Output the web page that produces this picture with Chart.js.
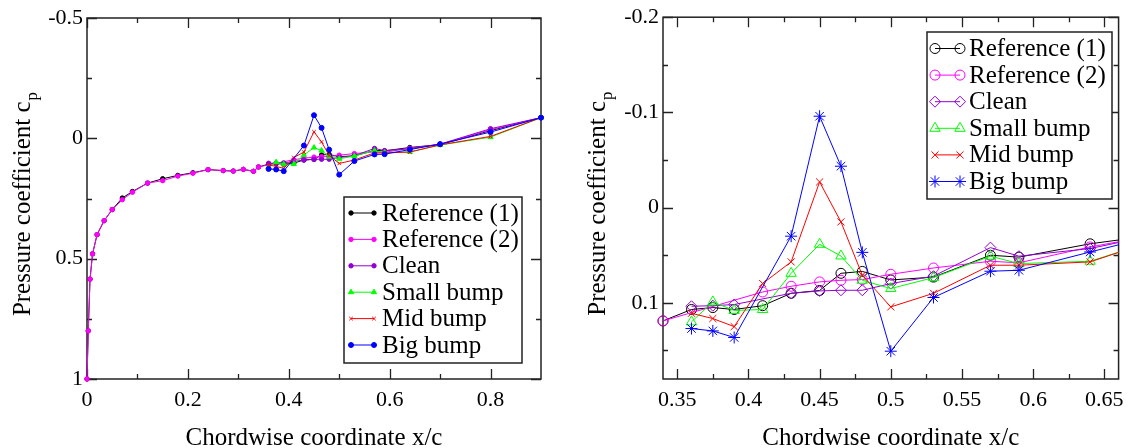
<!DOCTYPE html>
<html>
<head>
<meta charset="utf-8">
<script src="https://cdn.jsdelivr.net/npm/chart.js@4.4.1/dist/chart.umd.min.js"></script>
<style>
  html, body { margin: 0; padding: 0; background: #fff; }
  #wrap { position: relative; width: 1132px; height: 448px; }
  .panel { position: absolute; top: 0; width: 566px; height: 448px; }
</style>
</head>
<body>
<div id="wrap">
  <div class="panel" style="left:0"><canvas id="left" width="566" height="448"></canvas></div>
  <div class="panel" style="left:566px"><canvas id="right" width="566" height="448"></canvas></div>
</div>
<script>
// ---- data (x/c, cp) ----
const seriesNames = ["Reference (1)", "Reference (2)", "Clean", "Small bump", "Mid bump", "Big bump"];
const seriesColors = ["#000000", "#ff00ff", "#9400d3", "#00ff00", "#ff0000", "#0000ff"];

const ref1X = [0, 0.0025, 0.006, 0.011, 0.02, 0.034, 0.05, 0.07, 0.09, 0.12, 0.15, 0.18, 0.21, 0.24, 0.27, 0.29, 0.31, 0.33,
  0.34, 0.36, 0.375, 0.39, 0.41, 0.43, 0.45, 0.465, 0.48, 0.5, 0.53, 0.57, 0.59, 0.64, 0.7, 0.8, 0.9];
const ref1Cp = [1.0, 0.80, 0.585, 0.48, 0.40, 0.342, 0.296, 0.248, 0.221, 0.186, 0.168, 0.154, 0.143, 0.13, 0.134, 0.136, 0.129, 0.137,
  0.119, 0.107, 0.105, 0.107, 0.103, 0.090, 0.087, 0.069, 0.067, 0.076, 0.073, 0.050, 0.052, 0.038, 0.026, -0.032, -0.086];

const ref2X = [0, 0.0025, 0.006, 0.011, 0.02, 0.034, 0.05, 0.07, 0.09, 0.12, 0.15, 0.18, 0.21, 0.24, 0.27, 0.29, 0.31, 0.33,
  0.34, 0.41, 0.43, 0.45, 0.465, 0.48, 0.5, 0.53, 0.57, 0.59, 0.64, 0.7, 0.8, 0.9];
const ref2Cp = [1.0, 0.80, 0.585, 0.48, 0.40, 0.342, 0.296, 0.255, 0.224, 0.186, 0.176, 0.157, 0.145, 0.13, 0.134, 0.136, 0.129, 0.137,
  0.119, 0.0886, 0.0826, 0.078, 0.0763, 0.0756, 0.070, 0.0634, 0.0563, 0.058, 0.0413, 0.025, -0.036, -0.086];

const cleanX = [0.36, 0.375, 0.39, 0.43, 0.45, 0.465, 0.48, 0.5, 0.53, 0.57, 0.59, 0.64, 0.7, 0.8, 0.9];
const cleanCp = [0.1036, 0.103, 0.1018, 0.090, 0.0875, 0.0868, 0.0868, 0.0798, 0.072, 0.042, 0.051, 0.043, 0.024, -0.04, -0.086];

const smallX = [0.36, 0.375, 0.39, 0.41, 0.43, 0.45, 0.465, 0.48, 0.5, 0.53, 0.57, 0.59, 0.64, 0.7, 0.8, 0.9];
const smallCp = [0.12, 0.099, 0.108, 0.107, 0.069, 0.0385, 0.0508, 0.0763, 0.085, 0.0735, 0.051, 0.0588, 0.0563, 0.028, -0.005, -0.086];

const midX = [0.36, 0.375, 0.39, 0.41, 0.43, 0.45, 0.465, 0.48, 0.5, 0.53, 0.57, 0.59, 0.64, 0.7, 0.8, 0.9];
const midCp = [0.111, 0.1165, 0.125, 0.0797, 0.057, -0.027, 0.015, 0.071, 0.1043, 0.090, 0.0605, 0.0605, 0.057, 0.027, -0.008, -0.086];

const bigX = [0.36, 0.375, 0.39, 0.43, 0.45, 0.465, 0.48, 0.5, 0.53, 0.57, 0.59, 0.64, 0.7, 0.8, 0.9];
const bigCp = [0.127, 0.1295, 0.1364, 0.030, -0.096, -0.0435, 0.047, 0.1508, 0.0944, 0.0668, 0.0658, 0.0466, 0.024, -0.026, -0.086];

// tick values
const leftXTicks = [0, 0.2, 0.4, 0.6, 0.8];
const leftXMinor = [0.1, 0.3, 0.5, 0.7];
const leftYTicks = [-0.5, 0, 0.5, 1];
const leftYMinor = [-0.25, 0.25, 0.75];
const rightXTicks = [0.35, 0.4, 0.45, 0.5, 0.55, 0.6, 0.65];
const rightXMinor = [0.375, 0.425, 0.475, 0.525, 0.575, 0.625];
const rightYTicks = [-0.2, -0.1, 0, 0.1];
const rightYMinor = [-0.15, -0.05, 0.05, 0.15];

const seriesX = [ref1X, ref2X, cleanX, smallX, midX, bigX];
const seriesCp = [ref1Cp, ref2Cp, cleanCp, smallCp, midCp, bigCp];

const SERIF = "'Liberation Serif', 'DejaVu Serif', serif";
const fmt = (v) => String(Math.round(v * 1000) / 1000);

// ---- plugins ----
// frame with inward ticks on all four sides
const frameTicks = {
  id: "frameTicks",
  beforeDatasetsDraw(chart, args, o) {
    const { ctx, chartArea: a, scales } = chart;
    const x = scales.x, y = scales.y;
    ctx.save();
    ctx.strokeStyle = "#222";
    ctx.lineWidth = 1.5;
    ctx.strokeRect(a.left, a.top, a.right - a.left, a.bottom - a.top);
    ctx.lineWidth = 1.3;
    ctx.beginPath();
    const xt = (vals, len) => vals.forEach((v) => {
      const p = Math.round(x.getPixelForValue(v)) + 0.5;
      ctx.moveTo(p, a.bottom); ctx.lineTo(p, a.bottom - len);
      ctx.moveTo(p, a.top); ctx.lineTo(p, a.top + len);
    });
    const yt = (vals, len) => vals.forEach((v) => {
      const p = Math.round(y.getPixelForValue(v)) + 0.5;
      ctx.moveTo(a.left, p); ctx.lineTo(a.left + len, p);
      ctx.moveTo(a.right, p); ctx.lineTo(a.right - len, p);
    });
    xt(o.xMajor, 10); xt(o.xMinor, 5);
    yt(o.yMajor, 10); yt(o.yMinor, 5);
    ctx.stroke();
    ctx.restore();
  },
};

// axis titles (y title has a subscript)
const axisTitles = {
  id: "axisTitles",
  afterDraw(chart, args, o) {
    const { ctx, chartArea: a } = chart;
    ctx.save();
    ctx.fillStyle = "#000";
    ctx.font = "25px " + SERIF;
    ctx.textAlign = "center";
    ctx.textBaseline = "alphabetic";
    ctx.fillText("Chordwise coordinate x/c", (a.left + a.right) / 2, o.xTitleY);

    const main = "Pressure coefficient c";
    const w1 = ctx.measureText(main).width;
    ctx.font = "17px " + SERIF;
    const w2 = ctx.measureText("p").width;
    const total = w1 + w2;
    ctx.translate(o.yTitleX, (a.top + a.bottom) / 2 + o.yShift);
    ctx.rotate(-Math.PI / 2);
    ctx.textAlign = "left";
    ctx.font = "25px " + SERIF;
    ctx.fillText(main, -total / 2, 0);
    ctx.font = "17px " + SERIF;
    ctx.fillText("p", -total / 2 + w1 + 1, 7);
    ctx.restore();
  },
};

// boxed legend, xmgrace style: a line with a marker at each end
const boxLegend = {
  id: "boxLegend",
  afterDraw(chart, args, o) {
    const { ctx } = chart;
    ctx.save();
    ctx.fillStyle = "#fff";
    ctx.fillRect(o.left, o.top, o.width, o.height);
    ctx.strokeStyle = "#222";
    ctx.lineWidth = 1.5;
    ctx.strokeRect(o.left, o.top, o.width, o.height);
    ctx.font = "25px " + SERIF;
    ctx.textBaseline = "middle";
    ctx.textAlign = "left";
    seriesNames.forEach((name, i) => {
      const ds = chart.data.datasets[i];
      const yy = o.firstRow + i * o.rowStep;
      ctx.strokeStyle = ds.borderColor;
      ctx.lineWidth = 1;
      ctx.beginPath();
      ctx.moveTo(o.sx0, yy); ctx.lineTo(o.sx1, yy);
      ctx.stroke();
      ctx.fillStyle = ds.pointBackgroundColor;
      ctx.strokeStyle = ds.borderColor;
      const po = { pointStyle: ds.pointStyle, radius: ds.pointRadius, rotation: 0, borderWidth: ds.pointBorderWidth };
      Chart.helpers.drawPoint(ctx, po, o.sx0, yy);
      Chart.helpers.drawPoint(ctx, po, o.sx1, yy);
      ctx.fillStyle = "#000";
      ctx.fillText(name, o.textX, yy + 1);
    });
    ctx.restore();
  },
};

function buildChart(id, cfg) {
  const datasets = seriesNames.map((name, i) => ({
    label: name,
    data: seriesX[i].map((xv, k) => ({ x: xv, y: seriesCp[i][k] })).filter((p) => p.x >= cfg.xMin - 1e-9),
    borderColor: seriesColors[i],
    backgroundColor: seriesColors[i],
    pointBackgroundColor: cfg.filled ? seriesColors[i] : "rgba(0,0,0,0)",
    pointBorderColor: seriesColors[i],
    pointStyle: cfg.styles[i],
    pointRadius: cfg.radii[i],
    pointBorderWidth: 1,
    borderWidth: 1,
    showLine: true,
    tension: 0,
    order: 6 - i,
    clip: cfg.clip,
  }));

  return new Chart(document.getElementById(id), {
    type: "scatter",
    data: { datasets },
    plugins: [frameTicks, axisTitles, boxLegend],
    options: {
      responsive: false,
      animation: false,
      events: [],
      layout: { padding: { left: 0, right: 566 - cfg.area.right, top: cfg.area.top, bottom: 0 } },
      plugins: {
        legend: { display: false },
        tooltip: { enabled: false },
        frameTicks: { xMajor: cfg.xTicks, xMinor: cfg.xMinor, yMajor: cfg.yTicks, yMinor: cfg.yMinor },
        axisTitles: { xTitleY: 445, yTitleX: cfg.yTitleX, yShift: 6 },
        boxLegend: cfg.legend,
      },
      scales: {
        x: {
          type: "linear",
          min: cfg.xMin,
          max: cfg.xMax,
          grid: { display: false, drawTicks: false },
          border: { display: false },
          ticks: { font: { family: SERIF, size: 22 }, color: "#000", padding: 8, maxRotation: 0, autoSkip: false, callback: (v) => fmt(v) },
          afterBuildTicks: (s) => { s.ticks = cfg.xTicks.map((v) => ({ value: v })); },
          afterFit: (s) => { s.height = 448 - cfg.area.bottom; },
        },
        y: {
          type: "linear",
          reverse: true,
          min: cfg.yMin,
          max: cfg.yMax,
          grid: { display: false, drawTicks: false },
          border: { display: false },
          ticks: { font: { family: SERIF, size: 22 }, color: "#000", padding: 4, autoSkip: false, callback: (v) => fmt(v) },
          afterBuildTicks: (s) => { s.ticks = cfg.yTicks.map((v) => ({ value: v })); },
          afterFit: (s) => { s.width = cfg.area.left; },
        },
      },
    },
  });
}

// ---- left panel: whole upper surface ----
buildChart("left", {
  area: { left: 87, right: 541, top: 18, bottom: 379 },
  xMin: 0, xMax: 0.9, yMin: -0.5, yMax: 1,
  xTicks: leftXTicks, xMinor: leftXMinor, yTicks: leftYTicks, yMinor: leftYMinor,
  filled: true,
  styles: ["circle", "circle", "circle", "triangle", "crossRot", "circle"],
  radii: [2.2, 2.2, 2.2, 3, 2.5, 2.5],
  clip: false,
  yTitleX: 30,
  legend: { left: 344, top: 197, width: 178, height: 166, firstRow: 213, rowStep: 26.4, sx0: 351, sx1: 374, textX: 382 },
});

// ---- right panel: zoom on the bump ----
buildChart("right", {
  area: { left: 97, right: 553, top: 17, bottom: 379 },
  xMin: 0.34, xMax: 0.66, yMin: -0.2, yMax: 0.18,
  xTicks: rightXTicks, xMinor: rightXMinor, yTicks: rightYTicks, yMinor: rightYMinor,
  filled: false,
  styles: ["circle", "circle", "rectRot", "triangle", "crossRot", "star"],
  radii: [5, 5, 5.5, 6, 5, 6],
  clip: { left: 8, top: 8, right: 0, bottom: 8 },
  yTitleX: 39,
  legend: { left: 361, top: 32, width: 185, height: 167, firstRow: 48.5, rowStep: 26.6, sx0: 369, sx1: 394, textX: 403 },
});
</script>
</body>
</html>
